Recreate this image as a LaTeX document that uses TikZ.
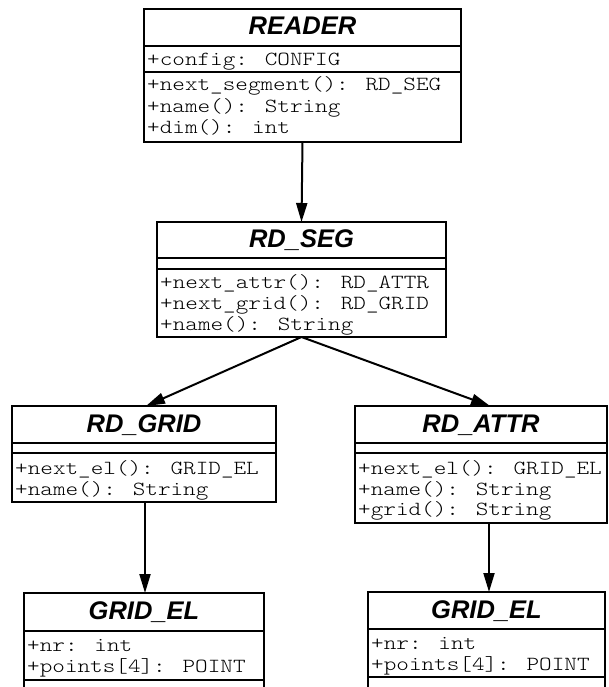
\documentclass[tikz,border=0pt]{standalone}
\usepackage{fontspec}
\usetikzlibrary{arrows.meta}
\newfontfamily\umltitlefont{Liberation Sans}
\newfontfamily\umlmonofont[FakeStretch=1.2]{lmmonolt10-regular.otf}
\tikzset{
  umlbox/.style={draw, line width=2.2pt, anchor=north west, inner sep=0pt, outer sep=0pt},
  divider/.style={line width=2pt},
  titletext/.style={font=\umltitlefont\bfseries\itshape\fontsize{25.5}{26}\selectfont, anchor=base, inner sep=0pt},
  monotext/.style={font=\umlmonofont\fontsize{20}{20}\selectfont, anchor=base west, inner sep=0pt},
  arr/.style={line width=2pt, -{Triangle[length=19pt,width=11pt]}}
}
\begin{document}
\begin{tikzpicture}[x=1pt,y=-1pt]
\useasboundingbox (0,0) rectangle (608,687);
\clip (0,0) rectangle (608,687);

% READER
\node[umlbox, minimum width=317pt, minimum height=133pt] (reader) at (144,9) {};
\draw[divider] ([yshift=-37pt]reader.north west) -- ([yshift=-37pt]reader.north east);
\draw[divider] ([yshift=-63pt]reader.north west) -- ([yshift=-63pt]reader.north east);
\node[titletext] (readerT) at ([yshift=-26pt]reader.north) {READER};
\node[monotext] (readerA1) at ([xshift=3pt,yshift=-57pt]reader.north west) {+config: CONFIG};
\node[monotext] (readerM1) at ([xshift=3pt,yshift=-82pt]reader.north west) {+next\_segment(): RD\_SEG};
\node[monotext] (readerM2) at ([xshift=3pt,yshift=-103.5pt]reader.north west) {+name(): String};
\node[monotext] (readerM3) at ([xshift=3pt,yshift=-125pt]reader.north west) {+dim(): int};

% RD_SEG
\node[umlbox, minimum width=289pt, minimum height=115pt] (rdseg) at (157,222) {};
\draw[divider] ([yshift=-36pt]rdseg.north west) -- ([yshift=-36pt]rdseg.north east);
\draw[divider] ([yshift=-47pt]rdseg.north west) -- ([yshift=-47pt]rdseg.north east);
\node[titletext] (rdsegT) at ([yshift=-25pt]rdseg.north) {RD\_SEG};
\node[monotext] (rdsegM1) at ([xshift=3pt,yshift=-66pt]rdseg.north west) {+next\_attr(): RD\_ATTR};
\node[monotext] (rdsegM2) at ([xshift=3pt,yshift=-87pt]rdseg.north west) {+next\_grid(): RD\_GRID};
\node[monotext] (rdsegM3) at ([xshift=3pt,yshift=-108pt]rdseg.north west) {+name(): String};

% RD_GRID
\node[umlbox, minimum width=264pt, minimum height=96pt] (rdgrid) at (12,406) {};
\draw[divider] ([yshift=-37pt]rdgrid.north west) -- ([yshift=-37pt]rdgrid.north east);
\draw[divider] ([yshift=-47pt]rdgrid.north west) -- ([yshift=-47pt]rdgrid.north east);
\node[titletext] (rdgridT) at ([yshift=-26pt]rdgrid.north) {RD\_GRID};
\node[monotext] (rdgridM1) at ([xshift=3pt,yshift=-68pt]rdgrid.north west) {+next\_el(): GRID\_EL};
\node[monotext] (rdgridM2) at ([xshift=3pt,yshift=-89pt]rdgrid.north west) {+name(): String};

% RD_ATTR
\node[umlbox, minimum width=252pt, minimum height=117pt] (rdattr) at (355,406) {};
\draw[divider] ([yshift=-37pt]rdattr.north west) -- ([yshift=-37pt]rdattr.north east);
\draw[divider] ([yshift=-47pt]rdattr.north west) -- ([yshift=-47pt]rdattr.north east);
\node[titletext] (rdattrT) at ([yshift=-26pt]rdattr.north) {RD\_ATTR};
\node[monotext] (rdattrM1) at ([xshift=3pt,yshift=-68pt]rdattr.north west) {+next\_el(): GRID\_EL};
\node[monotext] (rdattrM2) at ([xshift=3pt,yshift=-89pt]rdattr.north west) {+name(): String};
\node[monotext] (rdattrM3) at ([xshift=3pt,yshift=-109pt]rdattr.north west) {+grid(): String};

% GRID_EL (left)
\node[umlbox, minimum width=240pt, minimum height=150pt] (gridelA) at (24,593) {};
\draw[divider] ([yshift=-38pt]gridelA.north west) -- ([yshift=-38pt]gridelA.north east);
\draw[divider] ([yshift=-87pt]gridelA.north west) -- ([yshift=-87pt]gridelA.north east);
\node[titletext] (gridelAT) at ([yshift=-26pt]gridelA.north) {GRID\_EL};
\node[monotext] (gridelAA1) at ([xshift=3pt,yshift=-58pt]gridelA.north west) {+nr: int};
\node[monotext] (gridelAA2) at ([xshift=3pt,yshift=-79pt]gridelA.north west) {+points[4]: POINT};

% GRID_EL (right)
\node[umlbox, minimum width=237pt, minimum height=150pt] (gridelB) at (368,592) {};
\draw[divider] ([yshift=-37pt]gridelB.north west) -- ([yshift=-37pt]gridelB.north east);
\draw[divider] ([yshift=-85pt]gridelB.north west) -- ([yshift=-85pt]gridelB.north east);
\node[titletext] (gridelBT) at ([yshift=-26pt]gridelB.north) {GRID\_EL};
\node[monotext] (gridelBA1) at ([xshift=3pt,yshift=-57pt]gridelB.north west) {+nr: int};
\node[monotext] (gridelBA2) at ([xshift=3pt,yshift=-78pt]gridelB.north west) {+points[4]: POINT};

% connectors
\draw[arr] (reader.south) -- (rdseg.north);
\draw[arr] (rdseg.south) -- ([xshift=2pt]rdgrid.north);
\draw[arr] (rdseg.south) -- ([xshift=9pt]rdattr.north);
\draw[arr] ([xshift=1pt]rdgrid.south) -- ([xshift=1pt]rdgrid.south |- gridelA.north);
\draw[arr] ([xshift=8pt]rdattr.south) -- ([xshift=8pt]rdattr.south |- gridelB.north);
\end{tikzpicture}
\end{document}
